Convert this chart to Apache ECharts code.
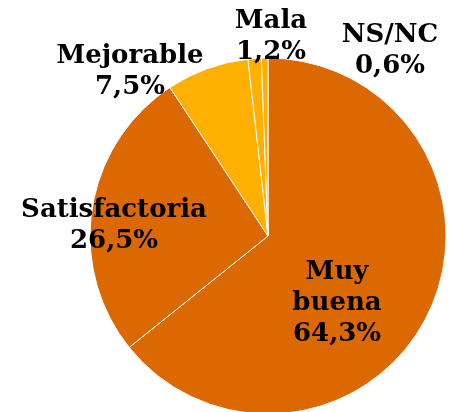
<!DOCTYPE html>
<html>
<head>
<meta charset="utf-8">
<script src="https://cdn.jsdelivr.net/npm/echarts@6/dist/echarts.min.js"></script>
<style>
  html, body { margin: 0; padding: 0; background: #fff; }
  #chart { width: 450px; height: 412px; }
</style>
</head>
<body>
<div id="chart"></div>
<script>
// categories and values (percent)
const categories = ['Muy buena', 'Satisfactoria', 'Mejorable', 'Mala', 'NS/NC']
const values = [64.3, 26.5, 7.5, 1.2, 0.6]
const colors = ['#DB6800', '#DB6800', '#FFB000', '#FFB000', '#FFB000']

// where each label's center sits
const labelPos = [[337, 303], [114, 226], [130, 72], [271, 37], [390, 51]]

const myChart = echarts.init(document.getElementById('chart'))
const option = {
    animation: false,
    series: [
        {
            type: 'pie',
            center: [268, 236],
            radius: 178,
            startAngle: 90,
            clockwise: true,
            data: categories.map((name, i) => ({
                name: name,
                value: values[i],
                itemStyle: { color: colors[i] }
            })),
            itemStyle: { borderColor: '#fff', borderWidth: 1 },
            label: {
                show: true,
                position: 'inside',
                fontFamily: 'DejaVu Serif',
                fontWeight: 'bold',
                fontSize: 26,
                lineHeight: 31,
                color: '#000',
                align: 'center',
                formatter: p => p.name.replace(' ', '\n') + '\n' + p.value.toFixed(1).replace('.', ',') + '%'
            },
            labelLine: { show: false },
            labelLayout: params => ({
                x: labelPos[params.dataIndex][0],
                y: labelPos[params.dataIndex][1],
                align: 'center',
                verticalAlign: 'middle'
            })
        }
    ]
}
myChart.setOption(option)
</script>
</body>
</html>
